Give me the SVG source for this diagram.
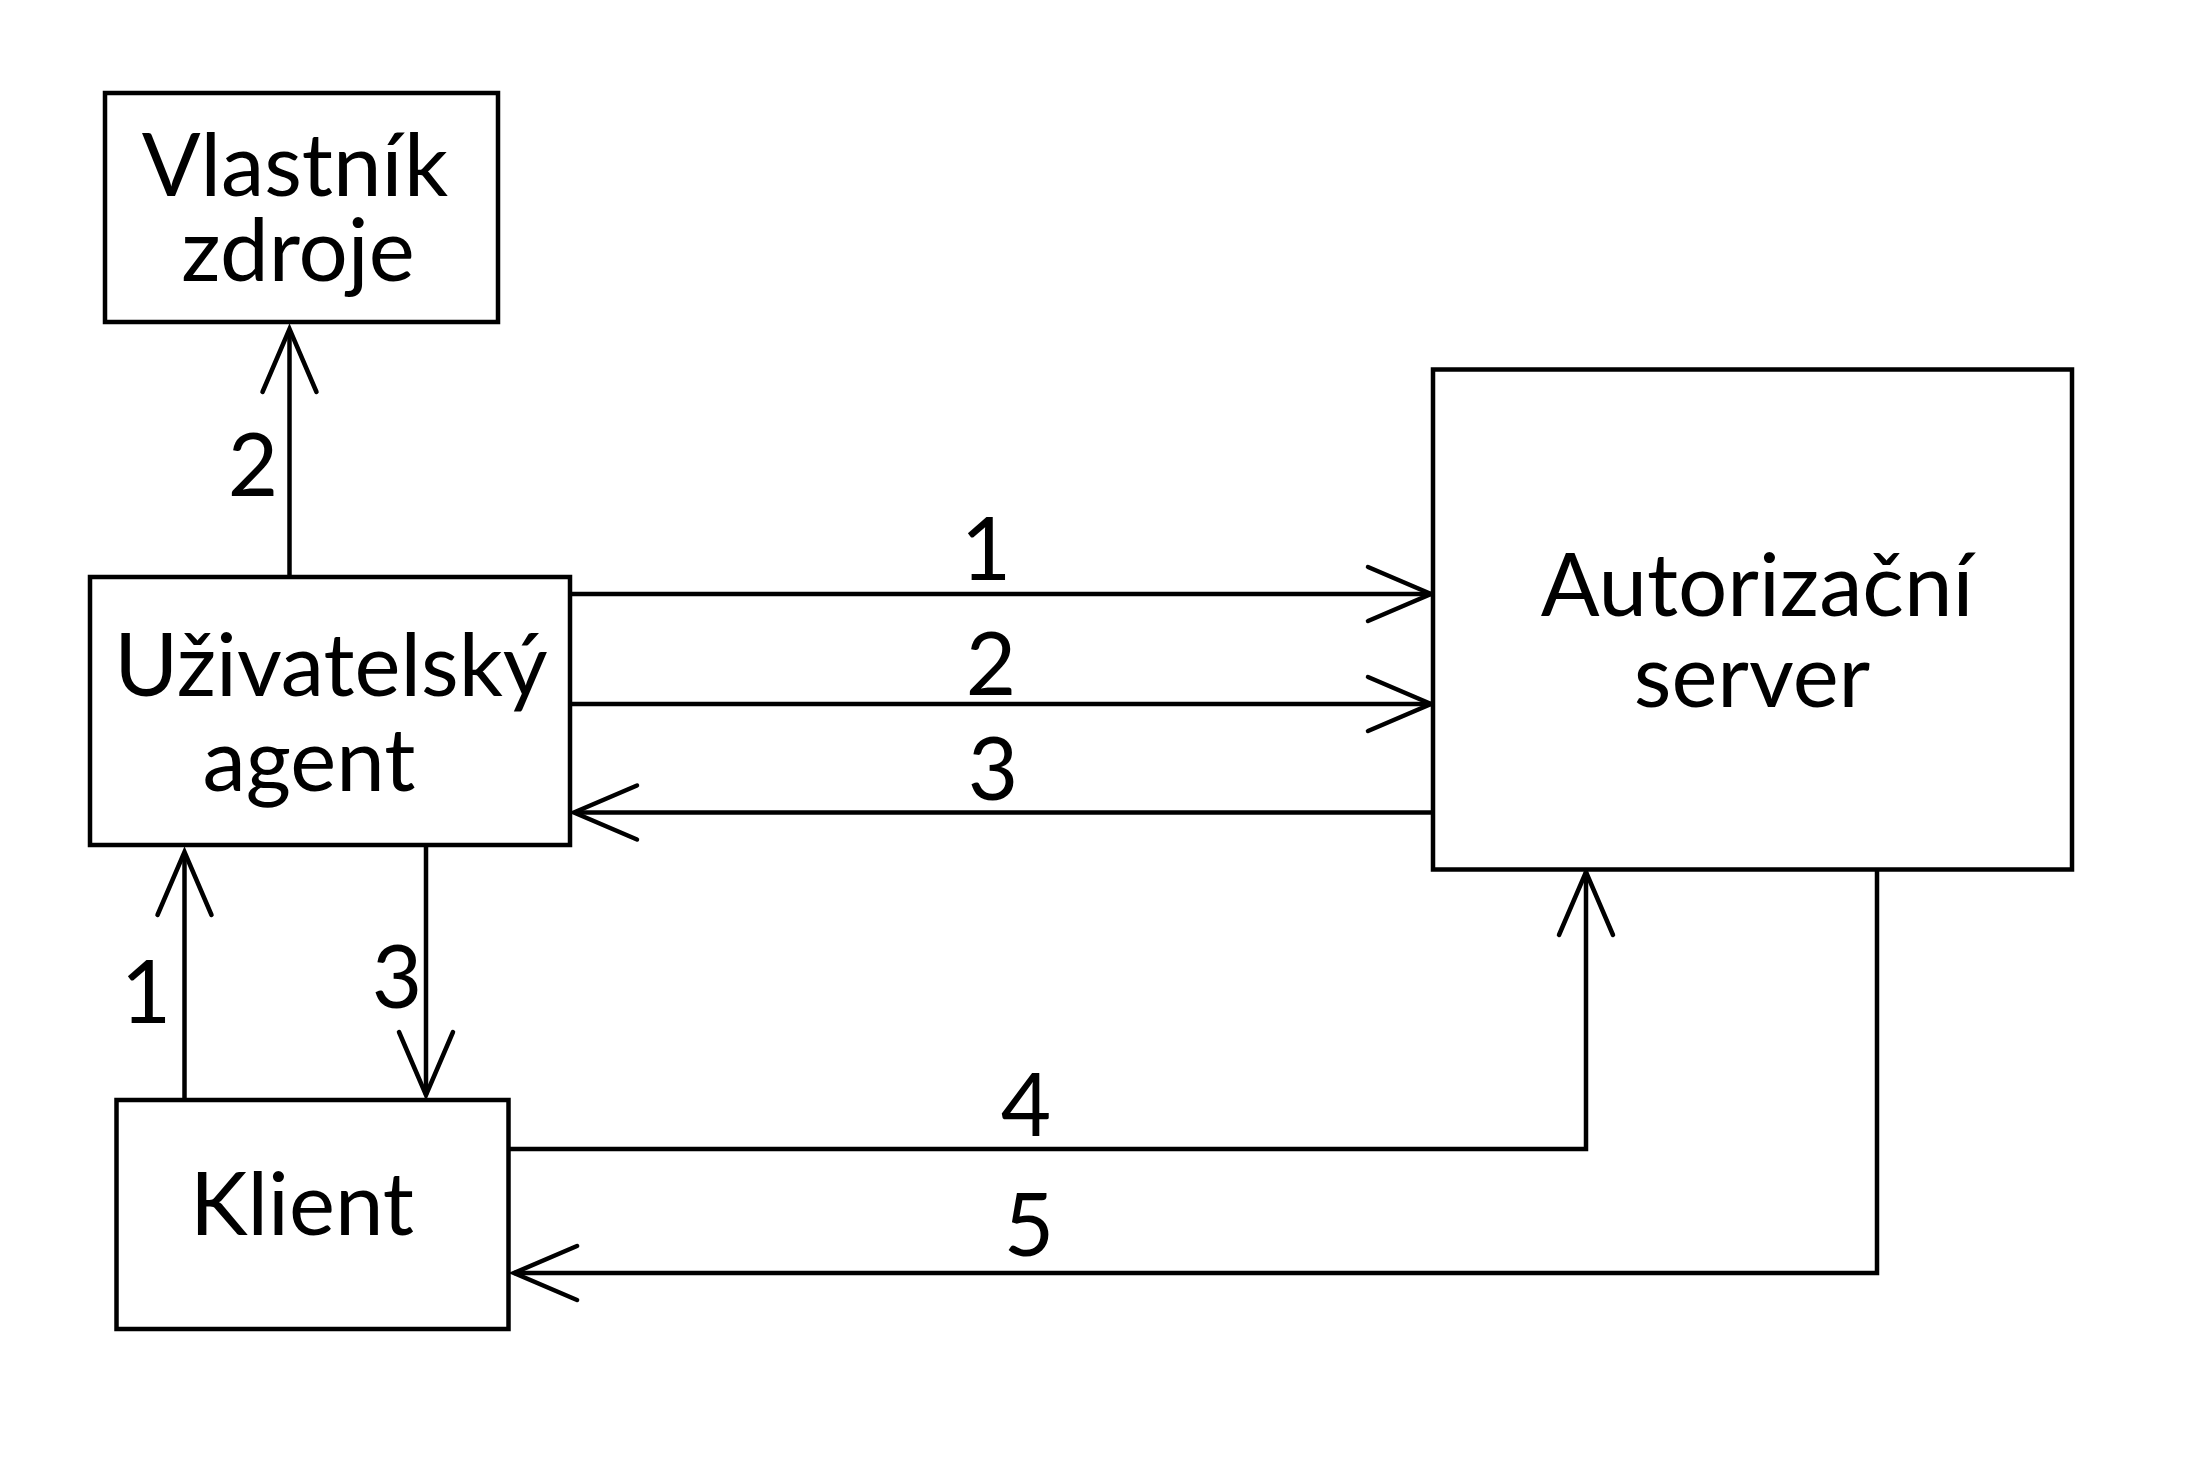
<svg xmlns="http://www.w3.org/2000/svg" width="2212" height="1472" viewBox="0 0 2212 1472">
<style>
.box{fill:#fff;stroke:#000;stroke-width:4.5}
.ln{fill:none;stroke:#000;stroke-width:4.5;marker-end:url(#ah)}
text{font-family:Lato,"Liberation Sans",sans-serif;font-size:87px;fill:#000;text-anchor:middle}
</style>
<defs>
<marker id="ah" markerUnits="userSpaceOnUse" markerWidth="80" markerHeight="80" viewBox="-70 -35 80 70" refX="0" refY="0" orient="auto" overflow="visible">
<path d="M-63,-27 L0,0 L-63,27" fill="none" stroke="#000" stroke-width="4.5" stroke-linecap="round" stroke-linejoin="miter"/>
</marker>
</defs>
<rect width="2212" height="1472" fill="#fff"/>
<g id="connectors">
<line class="ln" x1="289.5" y1="575" x2="289.5" y2="329"/>
<line class="ln" x1="572" y1="594" x2="1431" y2="594"/>
<line class="ln" x1="572" y1="704" x2="1431" y2="704"/>
<line class="ln" x1="1431" y1="812.5" x2="574" y2="812.5"/>
<line class="ln" x1="184.5" y1="1098" x2="184.5" y2="852"/>
<line class="ln" x1="426" y1="847" x2="426" y2="1095"/>
<polyline class="ln" points="510,1149 1586,1149 1586,872"/>
<polyline class="ln" points="1877,871 1877,1273 514,1273"/>
<text x="253" y="496">2</text>
<text x="986" y="580">1</text>
<text x="991" y="695">2</text>
<text x="993" y="800">3</text>
<text x="146" y="1023">1</text>
<text x="397" y="1008">3</text>
<text x="1026" y="1136">4</text>
<text x="1029" y="1256">5</text>
</g>
<g id="vlastnik">
<rect class="box" x="105" y="93" width="393" height="229"/>
<text><tspan x="295" y="196">Vlastník</tspan><tspan x="298" y="281">zdroje</tspan></text>
</g>
<g id="agent">
<rect class="box" x="90" y="577" width="480" height="268"/>
<text><tspan x="331" y="696">Uživatelský</tspan><tspan x="309" y="791">agent</tspan></text>
</g>
<g id="klient">
<rect class="box" x="116.5" y="1100" width="392" height="229"/>
<text x="302" y="1235">Klient</text>
</g>
<g id="server">
<rect class="box" x="1433" y="369.5" width="639" height="500"/>
<text><tspan x="1757" y="616">Autorizační</tspan><tspan x="1752" y="707">server</tspan></text>
</g>
</svg>
